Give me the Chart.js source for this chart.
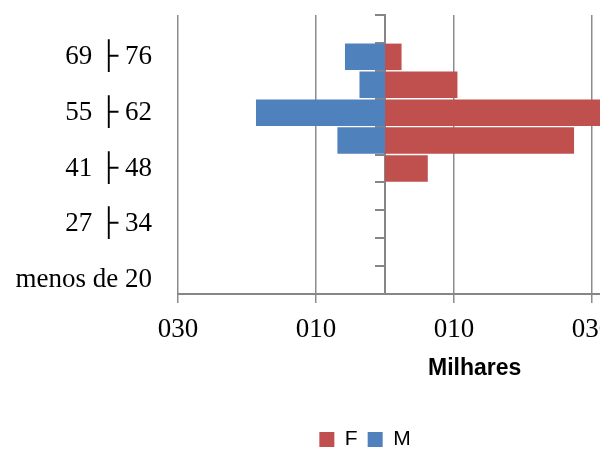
<!DOCTYPE html>
<html><head><meta charset="utf-8">
<script src="https://cdn.jsdelivr.net/npm/chart.js@4"></script>
<style>
html,body{margin:0;padding:0;overflow:hidden;background:#fff;width:600px;height:451px}
#wrap{width:752px;height:451px;position:relative}
</style></head><body>
<div id="wrap"><canvas id="c" width="752" height="451"></canvas></div>
<script>
const categories = ["menos de 20","20 ├ 27","27 ├ 34","34 ├ 41","41 ├ 48","48 ├ 55","55 ├ 62","62 ├ 69","69 ├ 76","76 ├ 83"];
const valuesF = [0,0,0,0,6.2,27.4,33,10.5,2.4,0];
const valuesM = [0,0,0,0,0,-6.9,-18.7,-3.7,-5.8,0];
const xTickValues = [-30,-10,10,30];
const xTickLabels = ["030","010","010","030"];
const axisTitle = "Milhares";

const unitsTitle = {
  id:'unitsTitle',
  afterDraw(chart){
    const xs = chart.scales.x, ctx = chart.ctx;
    ctx.save();
    ctx.font = 'bold 23px "Liberation Sans"';
    ctx.fillStyle = '#000';
    ctx.textAlign = 'center';
    ctx.textBaseline = 'middle';
    ctx.fillText(axisTitle, xs.getPixelForValue(13), xs.top + 75);
    ctx.restore();
  }
};

new Chart(document.getElementById('c'), {
  type:'bar',
  data:{
    labels:categories,
    datasets:[
      {label:'F', data:valuesF, backgroundColor:'#C0504D', borderWidth:0, categoryPercentage:0.95, barPercentage:1},
      {label:'M', data:valuesM, backgroundColor:'#4F81BD', borderWidth:0, categoryPercentage:0.95, barPercentage:1}
    ]
  },
  options:{
    indexAxis:'y', responsive:false, animation:false, devicePixelRatio:1,
    layout:{padding:{left:0, right:22, top:15, bottom:-9}},
    plugins:{
      legend:{position:'bottom', labels:{boxWidth:15, boxHeight:15, padding:10, color:'#000', font:{family:'Liberation Sans', size:21}}},
      tooltip:{enabled:false}
    },
    scales:{
      x:{
        type:'linear', min:-30, max:50, stacked:true,
        afterBuildTicks:s=>{ s.ticks = xTickValues.map(v=>({value:v})); },
        afterFit:s=>{ s.height = 125; s.paddingLeft = 0; s.paddingRight = 0; },
        ticks:{callback:(v,i)=>xTickLabels[i], autoSkip:false, maxRotation:0, padding:11, color:'#000', font:{family:'Liberation Serif', size:27}},
        grid:{color:'#8c8c8c', lineWidth:1.5, tickLength:9},
        border:{color:'#868686', width:2}
      },
      y:{
        type:'category', reverse:true, stacked:true,
        afterFit:s=>{ s.width = 178; s.paddingTop = 0; s.paddingBottom = 0; },
        grid:{display:false, drawTicks:false}, border:{display:false},
        ticks:{autoSkip:false, padding:26, color:'#000', font:{family:'Liberation Serif', size:27},
          callback:(v)=> v%2===0 ? categories[v] : ''}
      },
      y2:{
        type:'category', labels:categories, reverse:true, offset:true, position:{x:0},
        afterFit:s=>{ s.paddingTop = 0; s.paddingBottom = 0; },
        grid:{offset:true, drawOnChartArea:false, tickLength:9, color:'#868686', lineWidth:2},
        border:{color:'#868686', width:2},
        ticks:{display:false}
      }
    }
  },
  plugins:[unitsTitle]
});
</script></body></html>
